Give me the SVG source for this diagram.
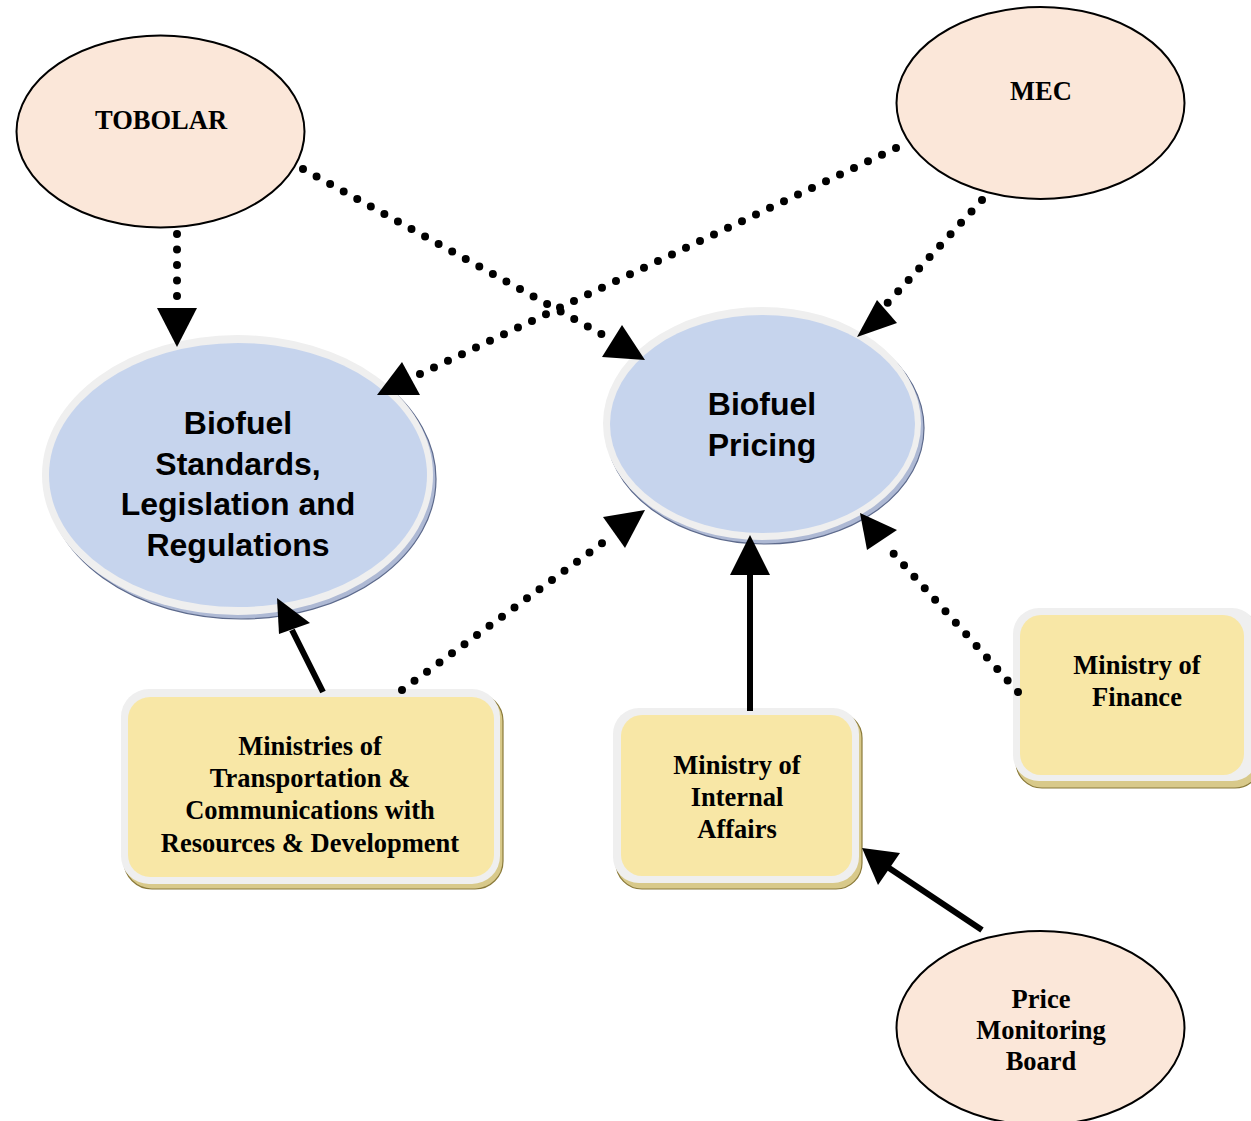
<svg xmlns="http://www.w3.org/2000/svg" width="1251" height="1121" viewBox="0 0 1251 1121">
<defs>
<style>
.peach{fill:#fbe7d9;stroke:#000;stroke-width:2}
.ring{fill:#efefef}
.blue{fill:#c6d4ed}
.bshadow{fill:#aeb9d4;stroke:#5d6a8c;stroke-width:1.2}
.yellow{fill:#f8e7a6}
.yshadow{fill:#d8c98a;stroke:#8a7a3a;stroke-width:1.2}
.serif{font-family:"Liberation Serif","Times New Roman",serif;font-weight:bold;font-size:26.5px;fill:#000;text-anchor:middle}
.sans{font-family:"Liberation Sans",Arial,sans-serif;font-weight:bold;font-size:32px;fill:#000;text-anchor:middle}
.dot{fill:none;stroke:#000;stroke-width:8;stroke-linecap:round;stroke-dasharray:0 15.5}
.solid{fill:none;stroke:#000;stroke-width:6}
.head{fill:#000}
</style>
</defs>

<g id="tobolar">
<ellipse class="peach" cx="160.5" cy="131.5" rx="144" ry="96"/>
<text class="serif" x="161" y="129">TOBOLAR</text>
</g>

<g id="mec">
<ellipse class="peach" cx="1040.5" cy="103" rx="144" ry="96"/>
<text class="serif" x="1041" y="100">MEC</text>
</g>

<g id="price-monitoring-board">
<ellipse class="peach" cx="1040.5" cy="1028" rx="144" ry="97"/>
<text class="serif" x="1041" y="1008">Price</text>
<text class="serif" x="1041" y="1039">Monitoring</text>
<text class="serif" x="1041" y="1070">Board</text>
</g>

<g id="biofuel-standards">
<ellipse class="bshadow" cx="241" cy="479" rx="195" ry="140"/>
<ellipse class="ring" cx="237.5" cy="475" rx="195.5" ry="140"/>
<ellipse class="blue" cx="238" cy="475" rx="189" ry="132"/>
<text class="sans" x="238" y="434">Biofuel</text>
<text class="sans" x="238" y="475">Standards,</text>
<text class="sans" x="238" y="515">Legislation and</text>
<text class="sans" x="238" y="556">Regulations</text>
</g>

<g id="biofuel-pricing">
<ellipse class="bshadow" cx="765" cy="428" rx="159" ry="116"/>
<ellipse class="ring" cx="762" cy="423.5" rx="159" ry="116.5"/>
<ellipse class="blue" cx="762.5" cy="424" rx="152.5" ry="109"/>
<text class="sans" x="762" y="415">Biofuel</text>
<text class="sans" x="762" y="456">Pricing</text>
</g>

<g id="ministries-transportation">
<rect class="yshadow" x="124" y="693" width="379" height="196" rx="28"/>
<rect class="ring" x="121" y="689" width="379" height="195" rx="28"/>
<rect class="yellow" x="128" y="697" width="366" height="180" rx="22"/>
<text class="serif" x="310" y="755">Ministries of</text>
<text class="serif" x="310" y="787">Transportation &amp;</text>
<text class="serif" x="310" y="819">Communications with</text>
<text class="serif" x="310" y="852">Resources &amp; Development</text>
</g>

<g id="ministry-internal-affairs">
<rect class="yshadow" x="616" y="712" width="246" height="177" rx="26"/>
<rect class="ring" x="613" y="708" width="246" height="175" rx="26"/>
<rect class="yellow" x="621" y="715" width="231" height="161" rx="21"/>
<text class="serif" x="737" y="774">Ministry of</text>
<text class="serif" x="737" y="806">Internal</text>
<text class="serif" x="737" y="838">Affairs</text>
</g>

<g id="ministry-finance">
<rect class="yshadow" x="1016" y="612" width="245" height="176" rx="26"/>
<rect class="ring" x="1013" y="608" width="245" height="173" rx="26"/>
<rect class="yellow" x="1020" y="615" width="224" height="160" rx="21"/>
<text class="serif" x="1137" y="674">Ministry of</text>
<text class="serif" x="1137" y="706">Finance</text>
</g>

<g id="connectors">
<!-- TOBOLAR -> Standards -->
<path class="dot" d="M177,234 L177,299"/>
<polygon class="head" points="157,308 197,308 177,347"/>
<!-- TOBOLAR -> Pricing -->
<path class="dot" d="M303,169 L612,340"/>
<polygon class="head" points="645,360 602,357 622,325"/>
<!-- MEC -> Standards -->
<path class="dot" d="M896,148 L416,376"/>
<polygon class="head" points="377,395 420,395 402,362"/>
<!-- MEC -> Pricing -->
<path class="dot" d="M982,200 L882,309"/>
<polygon class="head" points="857,337 897,323 877,300"/>
<!-- Ministries -> Standards (solid) -->
<path class="solid" d="M323,692 L292,630"/>
<polygon class="head" points="277,598 310,623 279,634"/>
<!-- Ministries -> Pricing -->
<path class="dot" d="M402,690 L612,536"/>
<polygon class="head" points="645,510 603,517 625,548"/>
<!-- Internal Affairs -> Pricing (solid) -->
<path class="solid" d="M750,711 L750,570"/>
<polygon class="head" points="730,575 770,575 750,535"/>
<!-- Finance -> Pricing -->
<path class="dot" d="M1018,692 L885,544"/>
<polygon class="head" points="860,513 897,530 867,550"/>
<!-- Price Monitoring Board -> Internal Affairs (solid) -->
<path class="solid" d="M982,930 L886,866"/>
<polygon class="head" points="862,848 900,853 878,885"/>
</g>
</svg>
